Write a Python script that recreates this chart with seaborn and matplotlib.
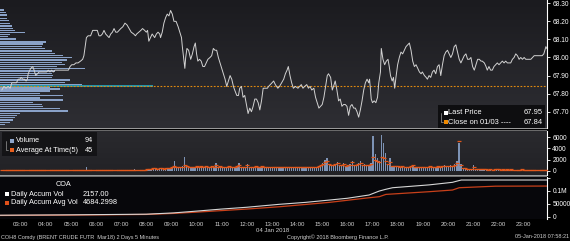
import numpy as np
import pandas as pd
import matplotlib
matplotlib.use("Agg")
import matplotlib.pyplot as plt
import seaborn as sns
from matplotlib.colors import LinearSegmentedColormap
from matplotlib.patches import Rectangle
from matplotlib.lines import Line2D

# ---------------- data ----------------
# price line (minutes after 00:00 on 04 Jan 2018, price)
price_time = [135,140,145,150,155,159,164,170,174,178,181,185,189,193,196,198,204,209,212,216,
              220,224,230,234,242,246,250,254,258,262,267,274,278,286,294,298,302,307,312,317,
              323,328,331,334,337,341,347,352,357,363,367,371,375,379,383,387,391,395,399,403,
              407,411,415,419,424,429,434,439,444,450,454,
              457,462,467,471,476,480,483,486,490,494,497,500,504,508,512,514,518,522,526,530,
              534,538,542,546,551,556,560,564,566,569,572,574,577,581,586,590,594,597,600,603,
              607,611,615,619,623,627,632,636,640,644,648,652,656,660,664,668,672,676,680,684,
              688,691,696,700,703,707,711,715,719,723,727,731,735,739,743,747,751,755,759,763,
              769,772,
              784,788,794,798,803,808,812,816,819,823,827,831,836,842,846,850,854,858,863,867,
              871,875,880,884,888,892,896,900,904,908,912,915,920,924,927,931,935,939,943,947,
              951,955,959,963,967,971,975,979,983,987,991,995,999,1003,1007,1011,1013,1017,1020,1024,
              1028,1032,1035,1039,1041,1045,1049,1053,1057,1060,1063,1067,1070,1073,1076,1080,1084,1088,1092,1096,
              1100,1104,
              1108,1112,1116,1120,1124,1128,1132,1136,1139,1144,1148,1151,1155,1159,1163,1167,1171,1175,1179,1183,
              1187,1191,1195,1199,1203,1207,1211,1215,1219,1223,1227,1231,1235,1239,1243,1247,1251,1255,1259,1263,
              1267,1271,1275,1279,1282,1287,1291,1294,1298,1302,1306,1310,1314,1318,1322,1326,1330,1334,1338,1342,
              1346,1350,1354,1358,1362,1366,1370,1374,1378,1382,1386,1390,1394,1398,1402,1406,1410,1414,1418,1422,
              1425,1429,1434,1436]
price = [67.82,67.84,67.83,67.84,67.83,67.86,67.86,67.86,67.88,67.88,67.89,67.88,67.88,67.87,67.88,67.91,67.94,67.95,67.93,67.90,
         67.91,67.92,67.92,67.92,67.92,67.93,67.92,67.93,67.92,67.93,67.93,67.93,67.93,67.93,67.93,67.95,67.96,67.96,67.97,67.97,
         67.98,67.99,68.01,68.06,68.11,68.12,68.12,68.15,68.15,68.15,68.12,68.12,68.13,68.15,68.13,68.12,68.11,68.13,68.14,68.16,
         68.14,68.14,68.15,68.16,68.17,68.19,68.18,68.16,68.14,68.13,68.12,
         68.13,68.14,68.15,68.16,68.15,68.14,68.15,68.09,68.11,68.13,68.12,68.11,68.13,68.14,68.13,68.11,68.14,68.19,68.22,68.24,
         68.23,68.26,68.24,68.20,68.20,68.17,68.14,68.11,68.06,68.00,67.94,68.00,68.05,68.04,67.99,68.02,68.06,68.08,68.02,67.98,
         67.99,67.98,67.95,67.95,67.97,67.99,68.00,68.01,68.05,68.04,68.04,68.00,67.97,67.94,67.91,67.88,67.84,67.87,67.90,67.88,
         67.84,67.82,67.79,67.79,67.83,67.84,67.78,67.79,67.74,67.69,67.72,67.70,67.73,67.77,67.77,67.75,67.71,67.76,67.83,67.83,
         67.83,67.84,
         67.87,67.85,67.83,67.84,67.86,67.88,67.91,67.93,67.95,67.90,67.86,67.83,67.84,67.83,67.84,67.85,67.83,67.84,67.85,67.83,
         67.84,67.82,67.83,67.78,67.75,67.72,67.73,67.74,67.78,67.84,67.90,67.91,67.89,67.82,67.84,67.87,67.82,67.76,67.77,67.73,
         67.74,67.74,67.73,67.68,67.73,67.74,67.72,67.72,67.70,67.67,67.71,67.76,67.82,67.86,67.88,67.86,67.88,67.77,67.75,67.76,
         67.75,67.78,67.86,67.92,68.05,67.99,67.96,67.98,67.99,67.95,67.90,67.87,67.89,67.83,67.89,67.96,68.00,68.03,68.02,68.04,
         68.06,68.07,
         68.08,68.04,67.98,67.95,67.96,67.94,67.92,67.91,67.92,67.90,67.89,67.88,67.90,67.89,67.92,67.93,67.91,67.95,67.96,67.90,
         67.96,68.01,68.03,68.04,68.02,68.00,68.02,68.06,68.07,68.03,67.99,67.97,67.99,68.01,68.02,67.99,67.99,68.00,67.95,67.93,
         67.96,67.99,67.99,67.98,67.98,67.97,67.95,67.93,67.95,67.93,67.93,67.95,67.96,67.97,67.96,67.97,67.98,67.97,67.98,67.97,
         67.97,67.97,67.99,68.00,68.02,68.01,67.99,68.00,67.99,68.00,67.99,67.99,67.99,67.99,68.00,68.01,68.01,68.01,68.01,68.01,
         68.01,68.02,68.06,68.05]

prev_close = 67.84
last_price = 67.95
teal_end = 495          # minutes

# volume at price profile
profile_price = [68.263,68.248,68.235,68.217,68.204,68.189,68.174,68.161,68.148,68.139,
                 68.128,68.115,68.102,68.087,68.074,68.060,68.049,68.036,68.023,68.012,
                 67.999,67.986,67.973,67.962,67.949,67.940,67.925,67.912,67.901,67.888,
                 67.875,67.862,67.851,67.838,67.825,67.814,67.801,67.789,67.777,67.765,
                 67.752,67.741,67.728,67.717,67.704,67.691,67.678,67.667,67.654,67.641,67.630]
profile_vol = [400,600,700,700,900,1000,1200,1300,1500,2500,
               1000,800,1600,4600,4300,4200,4500,5200,5500,6300,
               7200,6700,6200,6500,5700,8500,5500,5200,5300,5200,
               7000,6500,8200,5000,6000,5000,4000,6300,4000,6300,
               3300,4200,4300,6000,6800,2000,1700,1500,1300,1000,500]

# 5-minute volume bars from 02:15 to 23:55
volume = (
    [60,50,80,40,60,50,70,40,60] +
    [40,60,30,80,50,40,70,60,30,50,90,40] +
    [50,30,60,40,80,50,30,60,40,70,50,60] +
    [80,40,60,50,30,70,40,600,50,40,60,30] +
    [60,50,40,70,30,50,60,40,80,50,40,60] +
    [90,60,80,50,120,70,250,90,80,100,70,60] +
    [200,300,250,400,350,300,450,400,300,500,350,400] +
    [600,1700,700,500,600,800,2500,900,500,600,700,600] +
    [700,600,800,500,900,700,600,800,700,1300,600,800] +
    [600,700,500,800,600,700,600,900,1300,700,600,500] +
    [1200,600,700,500,800,600,700,900,600,500,700,600] +
    [500,400,600,500,400,600,500,450,550,500,400,600] +
    [500,600,450,550,500,400,600,700,500,600,800,1000] +
    [1400,2000,2300,1200,1100,1000,1200,1600,1000,900,1300,800] +
    [1000,1200,1800,1000,900,1300,1700,1000,1200,1100,1000,1300] +
    [6200,3000,2200,1800,6500,5000,3200,1100,2200,700,600,800] +
    [800,600,900,500,700,600,800,1000,700,600,500,700] +
    [600,500,700,800,500,600,700,900,600,800,1000,900] +
    [800,1000,900,1200,1700,5000,1200,400,300,300,200,200] +
    [1000,200,150,100,150,120,100,80,100,90,120,100] +
    [80,60,90,50,70,60,80,50,40,60,50,70] +
    [40,30,0,50,20,0,30,0,0,40,0,94])
avg_at_time = (
    [100,90,120,80,100,90,110,80,100] +
    [90,100,80,110,90,80,100,90,80,90,110,80] +
    [90,80,100,90,110,90,80,100,90,100,90,100] +
    [110,90,100,90,80,100,90,150,90,80,100,80] +
    [100,90,80,110,80,90,100,90,120,90,80,100] +
    [150,120,140,110,180,130,160,150,140,170,130,120] +
    [300,350,300,450,400,350,450,400,350,500,400,450] +
    [600,900,700,650,700,750,1100,800,650,700,750,700] +
    [800,700,800,650,900,750,700,850,750,1000,700,800] +
    [700,750,650,800,700,750,700,850,1000,750,700,650] +
    [1000,700,750,650,800,700,750,850,700,650,750,700] +
    [650,600,700,650,600,700,650,600,700,650,600,700] +
    [650,700,600,700,650,600,700,750,650,700,850,1000] +
    [1200,1500,1700,1200,1100,1000,1200,1400,1000,950,1200,900] +
    [1000,1100,1500,1000,950,1200,1400,1000,1100,1100,1000,1200] +
    [2500,2000,1800,1500,2500,2200,1800,1200,1600,900,800,900] +
    [850,700,900,650,750,700,800,950,750,700,650,750] +
    [700,650,750,800,650,700,750,850,700,800,900,850] +
    [800,900,850,1000,1300,5400,1100,500,400,350,300,300] +
    [700,300,250,250,250,250,250,200,250,200,250,250] +
    [250,200,250,200,250,200,250,200,200,200,200,250] +
    [150,100,80,120,80,60,100,60,60,80,60,45])
bar_start_min, bar_step_min = 135, 5

# daily accumulated volume and its average
accum_time = [131,300,480,545,600,660,720,798,860,917,960,1012,1036,1052,1068,1155,1211,1220,1232,1436]
accum_vol = [5000,6500,9000,14000,21000,29000,36000,47500,55000,64000,71000,83700,99000,106000,112000,123000,133000,137000,142000,142000]
accum_avg_time = [131,300,480,545,600,660,720,798,917,1012,1036,1052,1155,1211,1227,1314,1436]
accum_avg_vol = [4000,5500,8000,12000,17000,23000,29000,38000,55000,73000,77000,86000,96500,103000,112000,118000,118500]

hour_ticks = list(range(3, 24))
hour_labels = [f"{h:02d}:00" for h in hour_ticks]
price_ticks = [67.70, 67.80, 67.90, 68.00, 68.10, 68.20, 68.30]
vol_ticks = [0, 2000, 4000, 6000]
acc_ticks = [0, 50000, 100000, 150000]
acc_labels = ["0", "50000", "0.1M", ""]

# ---------------- figure ----------------
sns.set_theme(style="dark")
plt.rcParams['font.family'] = ['Liberation Sans', 'DejaVu Sans']

W, H = 570, 241
fig = plt.figure(figsize=(W / 100, H / 100), dpi=100, facecolor='black')

def fx(x): return x / W
def fy(y): return 1 - y / H
def rect(x0, y0, x1, y1): return [fx(x0), fy(y1), fx(x1) - fx(x0), fy(y0) - fy(y1)]

def px_rect(x0, y0, x1, y1, color, z=5, alpha=1.0):
    fig.add_artist(Rectangle((fx(x0), fy(y1)), fx(x1) - fx(x0), fy(y0) - fy(y1),
                             transform=fig.transFigure, facecolor=color, edgecolor='none',
                             zorder=z, alpha=alpha))

def px_text(x, y, s, size=5.3, color='white', ha='left', va='center', **kw):
    fig.text(fx(x), fy(y), s, fontsize=size, color=color, ha=ha, va=va, zorder=10, **kw)

XR = 547
XLIM = (130.7, 1436.6)
PLIM = (67.61, 68.318)

ax_bg = fig.add_axes(rect(0, 0, XR, 128))
ax1 = fig.add_axes(rect(0, 0, XR, 128))
ax2 = fig.add_axes(rect(0, 131, XR, 175))
ax3 = fig.add_axes(rect(0, 177, XR, 219))

for ax in (ax_bg, ax1, ax2, ax3):
    ax.grid(False)
    for s in ax.spines.values():
        s.set_visible(False)

# background gradient + volume profile
cm = LinearSegmentedColormap.from_list("bg", ["#1b1b1f", "#2e2e33"])
prof_xmax = 54700
ax_bg.imshow(np.linspace(0, 1, 256).reshape(-1, 1), cmap=cm, aspect='auto',
             extent=[0, prof_xmax, PLIM[0], PLIM[1]], origin='upper', zorder=0)
ax_bg.barh(profile_price, profile_vol, height=0.0082, color='#8aa2c8', linewidth=0, zorder=2)
ax_bg.set_xlim(0, prof_xmax)
ax_bg.set_ylim(*PLIM)
ax_bg.set_xticks([]); ax_bg.set_yticks([])

# price panel
ax1.set_facecolor('none')
ax1.hlines(prev_close, XLIM[0], teal_end, color='#1f9fb8', lw=1.3, zorder=2)
ax1.axhline(prev_close, color='#e08a10', lw=0.8, ls=(0, (1.6, 1.4)), zorder=3)
dfp = pd.DataFrame({'t': price_time, 'p': price})
sns.lineplot(data=dfp, x='t', y='p', ax=ax1, color='#d2d2d2', lw=0.7,
             estimator=None, sort=False, zorder=4)
ax1.set_xlim(*XLIM)
ax1.set_ylim(*PLIM)
ax1.set_xlabel(''); ax1.set_ylabel('')
ax1.set_xticks([])
ax1.yaxis.tick_right()
ax1.set_yticks(price_ticks)
ax1.set_yticklabels([f"{v:.2f}" for v in price_ticks])

# volume panel
cm2 = LinearSegmentedColormap.from_list("bg2", ["#2a2a2e", "#222226"])
VLIM = (-773, 7134)
ax2.imshow(np.linspace(0, 1, 64).reshape(-1, 1), cmap=cm2, aspect='auto',
           extent=[XLIM[0], XLIM[1], VLIM[0], VLIM[1]], origin='upper', zorder=0)
vol_t = np.arange(len(volume)) * bar_step_min + bar_start_min
ax2.bar(vol_t, volume, width=3.0, align='edge', color='#7d93b5', linewidth=0, zorder=2)
ax2.plot(vol_t + 1.5, avg_at_time, ls='none', marker='_', ms=2.6, mew=0.9,
         color='#e2581c', zorder=3)
ax2.set_xlim(*XLIM)
ax2.set_ylim(*VLIM)
ax2.set_xticks([])
ax2.yaxis.tick_right()
ax2.set_yticks(vol_ticks)
ax2.set_yticklabels([str(v) for v in vol_ticks])

# accumulated volume panel
ax3.set_facecolor('#07070b')
sns.lineplot(x=accum_avg_time, y=accum_avg_vol, ax=ax3, color='#c8401a', lw=0.9,
             estimator=None, sort=False)
sns.lineplot(x=accum_time, y=accum_vol, ax=ax3, color='#d6d6d6', lw=0.8,
             estimator=None, sort=False)
ax3.set_xlim(*XLIM)
ax3.set_ylim(-9700, 153700)
ax3.yaxis.tick_right()
ax3.set_yticks(acc_ticks)
ax3.set_yticklabels(acc_labels)
ax3.set_xticks([h * 60 for h in hour_ticks])
ax3.set_xticklabels(hour_labels)

for ax in (ax1, ax2, ax3):
    ax.spines['right'].set_visible(True)
    ax.spines['right'].set_color('white')
    ax.spines['right'].set_linewidth(0.8)
    ax.tick_params(axis='y', which='both', left=False, labelleft=False, right=True,
                   labelright=True, colors='white', labelsize=4.8, length=2.5,
                   width=0.6, pad=1.3, direction='out')
ax3.tick_params(axis='x', bottom=False, labelbottom=True, colors='#d0d0d0',
                labelsize=4.4, pad=1.8, length=0)

# separators
for y0, y1, c in [(128.0, 129.0, '#9a9a9a'), (130.0, 131.0, '#6a6a6a'),
                  (174.5, 175.5, '#9a9a9a'), (176.2, 177.0, '#707070')]:
    px_rect(0, y0, XR, y1, c, z=6)

# price legend
px_rect(438, 105, 545, 128, '#0c0c0e', z=7, alpha=0.92)
fig.add_artist(Line2D([fx(441), fx(441), fx(443)], [fy(113), fy(122), fy(122)],
                      transform=fig.transFigure, color='#9a9a9a', lw=0.5, zorder=8))
px_rect(443.5, 111, 447.5, 115, 'white', z=9)
px_rect(443.5, 120, 447.5, 124, '#f08a00', z=9)
px_text(448.5, 113, "Last Price", size=5.4)
px_text(543, 113, f"{last_price:.2f}", size=5.4, ha='right')
px_text(448.5, 122, "Close on 01/03 ----", size=5.4)
px_text(543, 122, f"{prev_close:.2f}", size=5.4, ha='right')

# volume legend
px_rect(1.5, 132, 97, 156, '#131315', z=7, alpha=0.95)
fig.add_artist(Line2D([fx(5.5), fx(5.5), fx(8)], [fy(141), fy(150), fy(150)],
                      transform=fig.transFigure, color='#9a9a9a', lw=0.5, zorder=8))
px_rect(10, 139, 14, 143, '#8ea6cc', z=9)
px_rect(10, 148, 14, 152, '#e8601e', z=9)
px_text(15.5, 141, "Volume", size=5.2)
px_text(93, 141, f"{volume[-1]}", size=5.2, ha='right')
px_text(15.5, 150, "Average At Time(5)", size=5.2)
px_text(93, 150, f"{avg_at_time[-1]}", size=5.2, ha='right')

# accumulated legend
px_text(56, 185, "COA", size=5.2)
px_rect(5, 192, 9, 196, 'white', z=9)
px_rect(5, 200.5, 9, 204.5, '#e0501a', z=9)
px_text(11, 194, "Daily Accum Vol", size=5.3)
px_text(83, 194, "2157.00", size=5.3)
px_text(11, 202.5, "Daily Accum Avg Vol", size=5.3)
px_text(83, 202.5, "4684.2998", size=5.3)

# footer
px_text(273, 230, "04 Jan 2018", size=4.3, color='#d0d0d0', ha='center')
px_text(1, 237, "COH8 Comdy (BRENT CRUDE FUTR  Mar18) 2 Days 5 Minutes", size=4.0, color='#d0d0d0')
px_text(287, 237, "Copyright\u00a9 2018 Bloomberg Finance L.P.", size=4.0, color='#d0d0d0')
px_text(569, 237, "05-Jan-2018 07:58:21", size=4.0, color='#d0d0d0', ha='right')

fig.savefig("out.png", dpi=100, facecolor='black')
